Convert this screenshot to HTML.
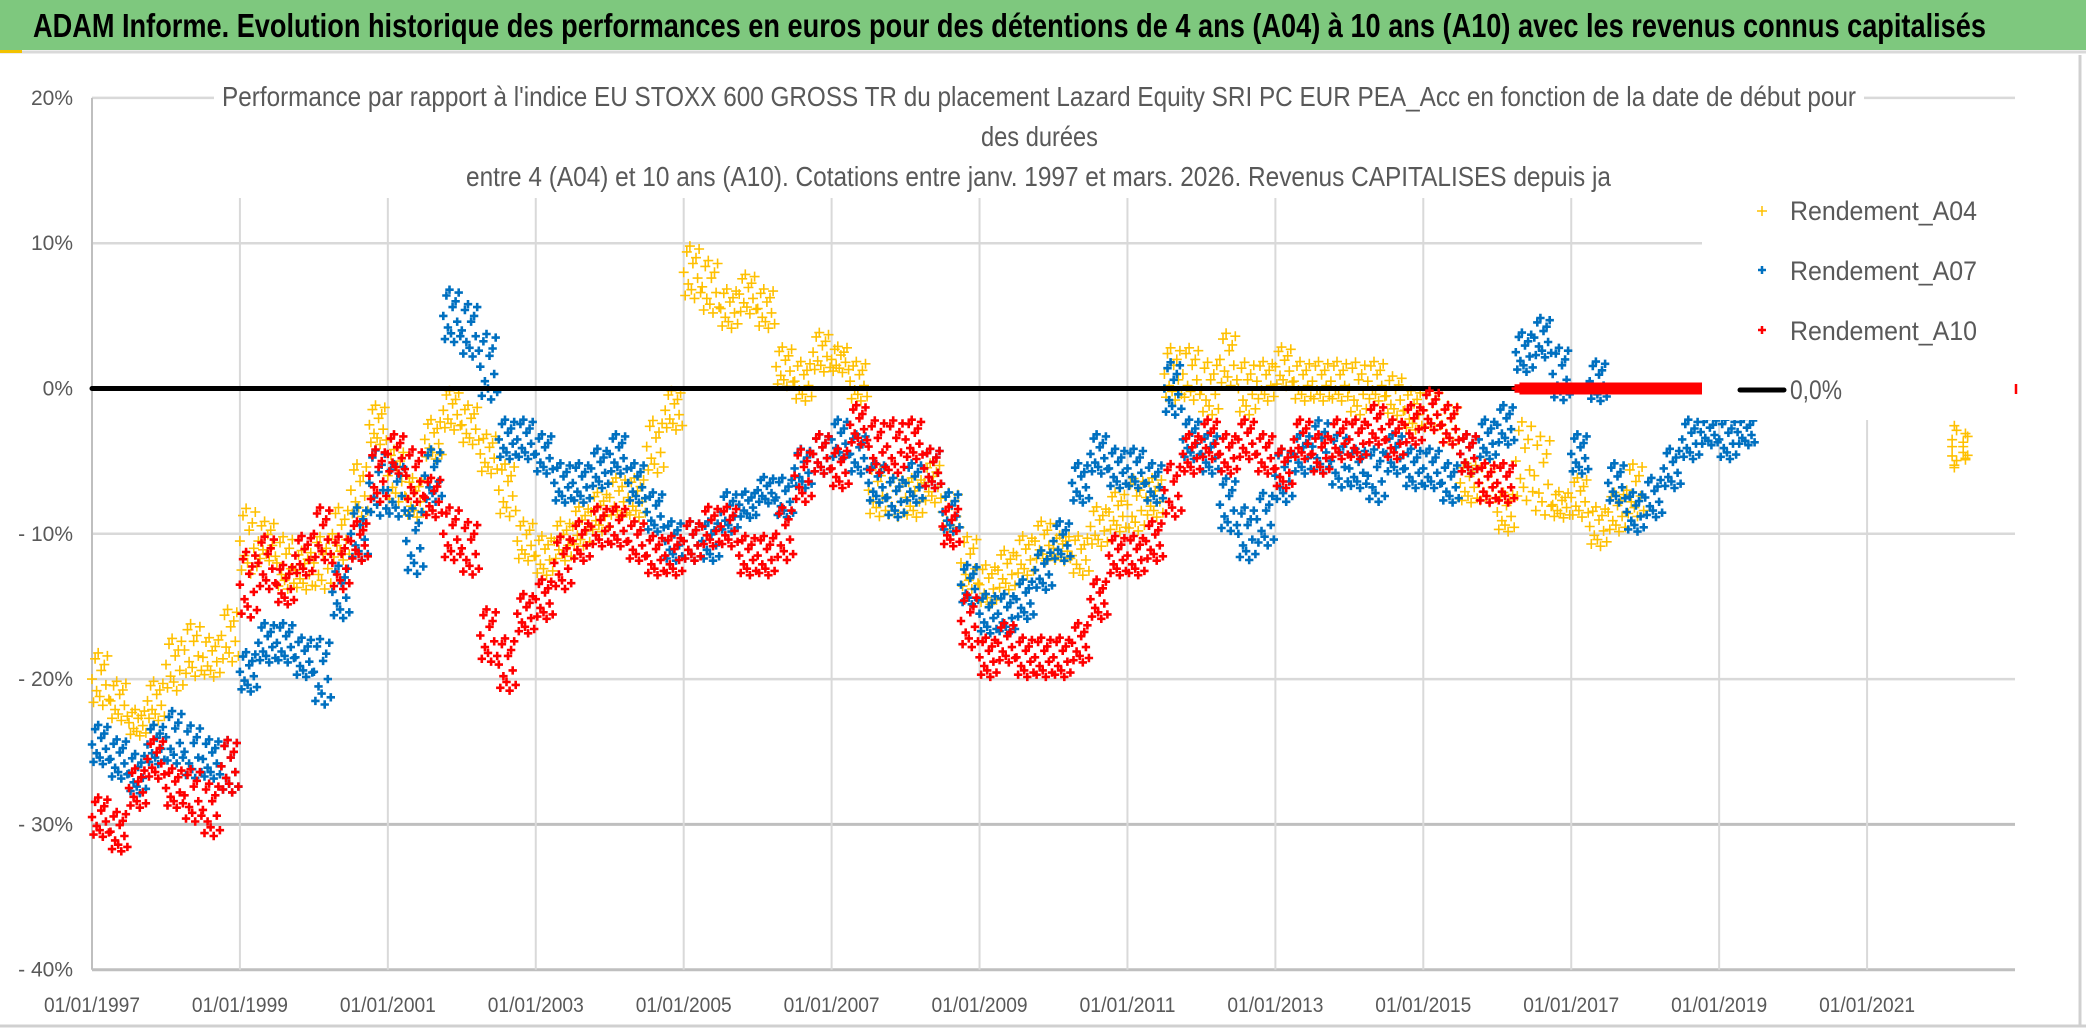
<!DOCTYPE html>
<html><head><meta charset="utf-8"><style>
html,body{margin:0;padding:0;background:#fff;}
svg{display:block;font-family:"Liberation Sans Narrow","Liberation Sans",sans-serif;}
</style></head><body>
<svg id="chart" width="2086" height="1031" viewBox="0 0 2086 1031" xmlns="http://www.w3.org/2000/svg">
<rect x="0" y="0" width="2086" height="1031" fill="#fff"/>
<rect x="0" y="0" width="2086" height="50" fill="#7ec87e"/>
<line x1="0" y1="52" x2="2086" y2="52" stroke="#d9d9d9" stroke-width="3"/>
<rect x="0" y="50" width="22" height="3" fill="#f2c200"/>
<text x="33" y="37" font-size="33" font-weight="bold" fill="#000" textLength="1953" lengthAdjust="spacingAndGlyphs">ADAM Informe. Evolution historique des performances en euros pour des détentions de 4 ans (A04) à 10 ans (A10) avec les revenus connus capitalisés</text>
<line x1="2080" y1="55" x2="2080" y2="1026" stroke="#d0d0d0" stroke-width="3"/>
<line x1="0" y1="1026" x2="2086" y2="1026" stroke="#d0d0d0" stroke-width="3"/>
<g id="grid"></g>
<g id="plot"></g>
<rect x="214" y="70" width="1650" height="127" fill="#fff"/>
<text x="222" y="106" font-size="28" fill="#595959" textLength="1634" lengthAdjust="spacingAndGlyphs">Performance par rapport à l'indice EU STOXX 600 GROSS TR  du placement Lazard Equity SRI PC EUR PEA_Acc en fonction de la date de début pour</text>
<text x="981" y="146" font-size="28" fill="#595959" textLength="117" lengthAdjust="spacingAndGlyphs">des durées</text>
<text x="466" y="186" font-size="28" fill="#595959" textLength="1145" lengthAdjust="spacingAndGlyphs">entre 4 (A04) et 10 ans (A10). Cotations entre janv. 1997 et mars. 2026. Revenus CAPITALISES depuis ja</text>
<g id="legend">
<rect x="1702" y="180" width="322" height="240" fill="#fff"/>
<g><path d="M1757 211h10M1762 206v10" stroke="#ffc000" stroke-width="1.5"/><text x="1790" y="220" font-size="27" fill="#595959" textLength="187" lengthAdjust="spacingAndGlyphs">Rendement_A04</text></g>
<g><path d="M1758 270h8M1762 266v8" stroke="#0070c0" stroke-width="2.5"/><text x="1790" y="280" font-size="27" fill="#595959" textLength="187" lengthAdjust="spacingAndGlyphs">Rendement_A07</text></g>
<g><path d="M1758 330h8M1762 326v8" stroke="#ff0000" stroke-width="2.5"/><text x="1790" y="340" font-size="27" fill="#595959" textLength="187" lengthAdjust="spacingAndGlyphs">Rendement_A10</text></g>
<g><line x1="1740" y1="390" x2="1784" y2="390" stroke="#000" stroke-width="5" stroke-linecap="round"/><text x="1790" y="399" font-size="27" fill="#595959" textLength="52" lengthAdjust="spacingAndGlyphs">0,0%</text></g>
<path d="M2016 384v10" stroke="#ff0000" stroke-width="2.5"/>
</g>
</svg>
<script>
// Quarterly data, starting 1997.0 (values in %)
const startYear = 1997;
const a04Lo = [-22,-23,-24,-23, -21,-20,-20,-19, -13,-12,-14,-14, -14,-12,-9,-4, -8,-9,-5,-3, -4,-6,-9,-12, -13,-12,-11,-10, -9,-9,-6,-3, 6,5,4,5, 4,0,-1,1, 1,-1,-9,-9, -9,-8,-10,-14, -15,-14,-13,-12, -12,-13,-11,-10, -10,-9,-1,-1, -2,0,-2,-1, 0,-1,-1,-1, -2,-1,-2,-3, -3,-4,-8,-8, -10,-8,-9,-9, -9,-11,-10,-9];
const a04Hi = [-18,-20,-22,-20, -17,-16,-17,-15, -8,-9,-10,-11, -10,-8,-5,-1, -4,-6,-2,0, -1,-3,-5,-9, -10,-9,-8,-7, -6,-6,-2,0, 10,9,7,8, 7,3,2,4, 3,2,-5,-6, -6,-5,-7,-10, -12,-11,-10,-9, -10,-10,-8,-7, -6,-6,3,3, 2,4,2,2, 3,2,2,2, 2,2,1,0, 0,-1,-5,-5, -7,-2,-3,-7, -6,-8,-7,-5];
const a07Lo = [-26,-27,-28,-26, -26,-27,-27,-28, -21,-19,-19,-20, -22,-16,-12,-9, -9,-13,-8,3, 2,-1,-5,-5, -6,-8,-8,-7, -6,-8,-10,-12, -12,-12,-10,-9, -8,-9,-7,-6, -5,-6,-8,-9, -8,-7,-10,-15, -17,-17,-16,-14, -12,-8,-6,-7, -7,-8,-2,-5, -6,-10,-12,-11, -8,-6,-6,-7, -7,-8,-6,-7, -7,-8,-6,-5, -4,1,2,-1, -6,-1,-8,-10, -9,-7,-5,-4, -5,-4];
const a07Hi = [-23,-24,-25,-23, -22,-23,-24,-24, -18,-16,-16,-17, -17,-12,-8,-4, -5,-8,-4,7, 6,4,-2,-2, -3,-5,-5,-4, -3,-5,-7,-9, -9,-9,-7,-7, -6,-6,-4,-3, -2,-3,-5,-6, -5,-4,-7,-12, -14,-14,-13,-11, -9,-5,-3,-4, -4,-5,2,-2, -3,-6,-8,-7, -4,-3,-2,-3, -4,-4,-3,-4, -4,-5,-3,-2, -1,4,5,3, -3,2,-5,-7, -6,-4,-2,-2, -2,-2];
const a10Lo = [-31,-32,-29,-27, -29,-30,-31,-28, -16,-14,-15,-13, -12,-14,-12,-8, -6,-8,-9,-12, -13,-19,-21,-17, -16,-14,-12,-11, -11,-12,-13,-13, -12,-11,-11,-13, -13,-12,-8,-6, -7,-4,-6,-6, -5,-7,-11,-18, -20,-19,-20,-20, -20,-19,-16,-13, -13,-12,-9,-6, -5,-6,-5,-6, -7,-5,-6,-5, -5,-4,-5,-4, -3,-4,-6,-8, -8,0,0,0, 0,0,0,0, 0,0,0,0];
const a10Hi = [-28,-29,-26,-24, -26,-26,-27,-24, -11,-10,-12,-10, -8,-10,-9,-4, -3,-4,-6,-8, -9,-15,-17,-14, -13,-10,-9,-8, -8,-9,-10,-10, -9,-8,-8,-10, -10,-8,-4,-3, -4,-1,-2,-2, -2,-4,-8,-14, -17,-16,-17,-17, -17,-16,-13,-10, -10,-9,-5,-3, -2,-3,-2,-3, -4,-2,-3,-2, -2,-1,-2,-1, 0,-1,-3,-5, -5,0,0,0, 0,0,0,0, 0,0,0,0];
const a04LateT = [2022.15, 2022.3];
const a04LateLo = [-5.6, -5];
const a04LateHi = [-2.4, -3];
const xTickYears = [1997,1999,2001,2003,2005,2007,2009,2011,2013,2015,2017,2019,2021];
const yTicks = [20,10,0,-10,-20,-30,-40];
const yTickLabels = ["20%","10%","0%","- 10%","- 20%","- 30%","- 40%"];

const NS = "http://www.w3.org/2000/svg";
const X0 = 92, X1 = 2015, T0 = 1997, T1 = 2023;
const Y0 = 388.5, PX_PER_PCT = 14.53;
function xs(t){ return X0 + (t - T0) * (X1 - X0) / (T1 - T0); }
function ys(v){ return Y0 - v * PX_PER_PCT; }
const grid = document.getElementById('grid');
const plot = document.getElementById('plot');
function mk(tag, attrs, parent){ const e = document.createElementNS(NS, tag); for (const k in attrs) e.setAttribute(k, attrs[k]); parent.appendChild(e); return e; }

// horizontal gridlines + y labels
yTicks.forEach((v, i) => {
  const dark = v <= -30;
  const l = mk('line', {x1: X0, x2: v===20?2015:(v===10?2015:X1), y1: ys(v), y2: ys(v), stroke: dark?'#bfbfbf':'#d9d9d9', 'stroke-width': dark?3:2.5}, grid);
  
  
  const t = mk('text', {x: 73, y: ys(v) + 7, 'font-size': 21, fill: '#595959', 'text-anchor': 'end'}, grid);
  t.textContent = yTickLabels[i];
  
  
});
// vertical gridlines + x labels
xTickYears.forEach((yr) => {
  const x = xs(yr);
  const l = mk('line', {x1: x, x2: x, y1: yr===1997?ys(20):198, y2: ys(-40), stroke: yr===1997?'#bfbfbf':'#d9d9d9', 'stroke-width': 2}, grid);
  
  
  const t = mk('text', {x: x, y: 1012, 'font-size': 21, fill: '#595959', 'text-anchor': 'middle', textLength: 96, lengthAdjust: 'spacingAndGlyphs'}, grid);
  t.textContent = '01/01/' + yr;
  
  
});

const pattern = [0.5,0.1,0.85,0.3,0.95,0.2,0.65,0.05,0.75,0.4,0.9,0.15];
function drawSeries(lo, hi, color, sw, size, name){
  const g = mk('g', {stroke: color, 'stroke-width': sw, fill: 'none'}, plot);
  
  
  let d = '';
  const n = 12;
  for (let q = 0; q < lo.length; q++) {
    for (let k = 0; k < n; k++) {
      const t = startYear + q * 0.25 + k * 0.25 / n;
      const v = lo[q] + (hi[q] - lo[q]) * pattern[k % pattern.length];
      const x = xs(t), y = ys(v);
      d += `M${(x-size).toFixed(1)} ${y.toFixed(1)}h${2*size}M${x.toFixed(1)} ${(y-size).toFixed(1)}v${2*size}`;
    }
  }
  const p = mk('path', {d: d}, g);
  
  
  return g;
}
drawSeries(a04Lo, a04Hi, '#ffc000', 1.6, 5, 'series-a04');
// late a04 cluster
(function(){
  const g = mk('g', {stroke: '#ffc000', 'stroke-width': 1.6}, plot);
  
  
  let d = '';
  a04LateT.forEach((t, i) => {
    for (let k = 0; k < 8; k++) {
      const v = a04LateLo[i] + (a04LateHi[i] - a04LateLo[i]) * pattern[k];
      const x = xs(t + (k%3)*0.03), y = ys(v);
      d += `M${x-5} ${y}h10M${x} ${y-5}v10`;
    }
  });
  mk('path', {d: d}, g);
})();
drawSeries(a07Lo, a07Hi, '#0070c0', 2.6, 4.2, 'series-a07');
const zl = mk('line', {x1: X0, x2: 1702, y1: ys(0), y2: ys(0), stroke: '#000', 'stroke-width': 5, 'stroke-linecap': 'round'}, plot);


drawSeries(a10Lo, a10Hi, '#ff0000', 2.6, 4.2, 'series-a10');
// red flat segment thickness
const rf = mk('rect', {x: xs(2016.3), y: ys(0) - 6, width: xs(2019.05) - xs(2016.3), height: 12, fill: '#ff0000'}, plot);


</script>
</body></html>
